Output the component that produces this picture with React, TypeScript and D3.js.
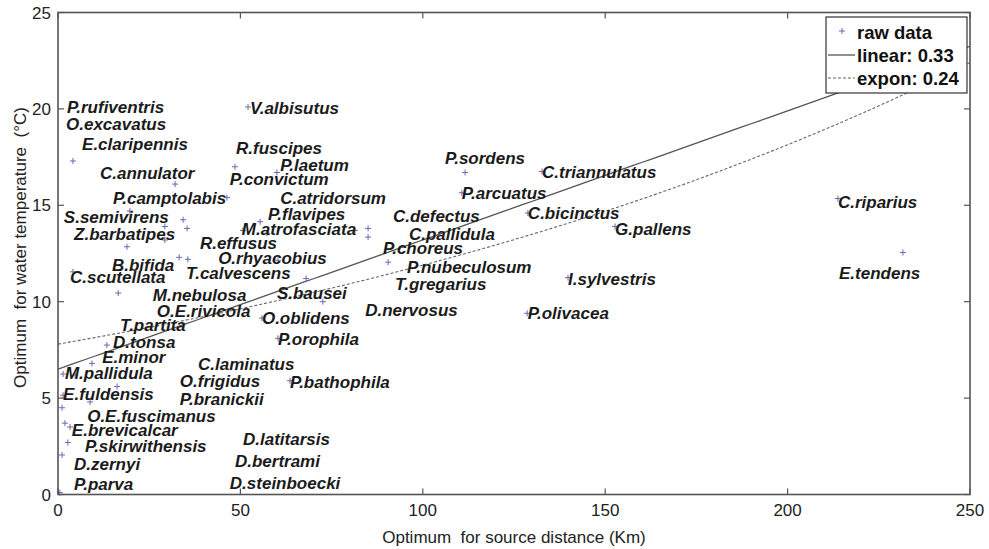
import React from 'react';
import * as d3 from 'd3';

// raw data points: [source distance (Km), water temperature (°C)]
const rawPoints: [number, number][] = [
  [4.1, 17.3], [48.5, 17.0], [32.1, 16.1], [46.3, 15.4], [19.7, 14.7],
  [34.3, 14.25], [35.4, 13.8], [29.3, 13.9], [29.3, 13.2], [18.9, 12.85],
  [33.2, 12.3], [35.6, 12.2], [4.1, 11.55], [16.5, 10.45], [13.4, 7.75],
  [9.3, 6.8], [1.4, 6.25], [4.7, 6.2], [16.2, 5.6], [1.4, 5.15],
  [8.8, 4.8], [1.1, 4.5], [1.9, 3.7], [3.3, 3.5], [2.7, 2.7],
  [1.1, 2.05], [0.5, 0.1], [60.0, 16.7], [55.4, 14.15], [57.3, 13.55],
  [50.7, 13.7], [81.4, 13.7], [85.0, 13.8], [85.0, 13.35], [90.5, 12.05],
  [60.3, 12.15], [68.0, 11.2], [72.6, 10.0], [55.9, 9.15], [60.3, 8.1],
  [63.6, 5.9], [52.1, 20.1], [111.6, 16.7], [110.7, 15.65], [132.7, 16.75],
  [128.8, 14.6], [152.7, 13.9], [139.8, 11.25], [128.6, 9.4], [213.8, 15.35],
  [231.6, 12.55],
];

// species labels, anchored (left, middle) in data units
const speciesLabels: [string, number, number][] = [
  ['P.rufiventris', 2.5, 20.1], ['O.excavatus', 2.2, 19.2], ['E.claripennis', 6.6, 18.2],
  ['C.annulator', 11.5, 16.7], ['P.camptolabis', 15.1, 15.4], ['S.semivirens', 1.6, 14.4],
  ['Z.barbatipes', 4.4, 13.5], ['B.bifida', 14.8, 11.9], ['C.scutellata', 3.3, 11.3],
  ['M.nebulosa', 26.0, 10.35], ['O.E.rivicola', 27.1, 9.5], ['T.partita', 17.0, 8.8],
  ['D.tonsa', 15.1, 7.9], ['E.minor', 12.1, 7.15], ['M.pallidula', 1.9, 6.3],
  ['E.fuldensis', 1.4, 5.2], ['O.E.fuscimanus', 8.0, 4.1], ['E.brevicalcar', 3.8, 3.35],
  ['P.skirwithensis', 7.4, 2.5], ['D.zernyi', 4.4, 1.6], ['P.parva', 4.4, 0.55],
  ['V.albisutus', 52.6, 20.05], ['R.fuscipes', 48.8, 18.0], ['P.laetum', 60.9, 17.1],
  ['P.convictum', 47.1, 16.35], ['C.atridorsum', 60.9, 15.4], ['P.flavipes', 57.6, 14.55],
  ['M.atrofasciata', 50.4, 13.8], ['R.effusus', 38.9, 13.05], ['O.rhyacobius', 43.9, 12.25],
  ['T.calvescens', 35.1, 11.5], ['S.bausei', 60.0, 10.45], ['O.oblidens', 55.9, 9.15],
  ['P.orophila', 60.3, 8.05], ['C.laminatus', 38.4, 6.8], ['O.frigidus', 33.4, 5.9],
  ['P.bathophila', 63.6, 5.85], ['P.branickii', 33.4, 4.95], ['D.latitarsis', 50.7, 2.9],
  ['D.bertrami', 48.5, 1.75], ['D.steinboecki', 47.1, 0.6], ['D.nervosus', 84.2, 9.6],
  ['C.defectus', 91.8, 14.45], ['C.pallidula', 96.2, 13.5], ['P.choreus', 89.1, 12.8],
  ['P.nubeculosum', 95.7, 11.8], ['T.gregarius', 92.4, 10.9], ['P.sordens', 106.1, 17.45],
  ['C.triannulatus', 132.7, 16.75], ['P.arcuatus', 110.7, 15.65], ['C.bicinctus', 128.8, 14.6],
  ['G.pallens', 152.7, 13.8], ['I.sylvestris', 139.8, 11.2], ['P.olivacea', 128.8, 9.4],
  ['C.riparius', 213.8, 15.2], ['E.tendens', 214.1, 11.5],
];

const xTicks = [0, 50, 100, 150, 200, 250];
const yTicks = [0, 5, 10, 15, 20, 25];

// fitted models
const linearFit = { intercept: 6.5, slope: 0.067, r2: '0.33' };
const exponFit = { a: 7.8, b: 0.00422, r2: '0.24' };

const W = 989;
const H = 549;
const margin = { left: 58, right: 19, top: 12.5, bottom: 54.5 };

const App = () => {
  const x = d3.scaleLinear().domain([0, 250]).range([margin.left, W - margin.right]);
  const y = d3.scaleLinear().domain([0, 25]).range([H - margin.bottom, margin.top]);

  const fitX = d3.range(0, 250.1, 2.5);
  const linearPath = d3.line<number>().x(d => x(d)).y(d => y(linearFit.intercept + linearFit.slope * d))(fitX);
  const exponPath = d3.line<number>().x(d => x(d)).y(d => y(exponFit.a * Math.exp(exponFit.b * d)))(fitX);

  const plus = 'M-3,0H3M0,-3V3';
  const x0 = x(0), x1 = x(250), y0 = y(0), y1 = y(25);
  const tickLen = 6;
  const lx = 826, ly = 17, lw = 141, lh = 76;

  return (
    <svg width={W} height={H} style={{ position: 'absolute', left: 0, top: 0, background: '#fff' }}
      fontFamily="'Liberation Sans', Arial, sans-serif">
      <defs>
        <clipPath id="plot">
          <rect x={x0} y={y1} width={x1 - x0} height={y0 - y1} />
        </clipPath>
      </defs>

      <g clipPath="url(#plot)" fill="none">
        <path d={linearPath || ''} stroke="#555" strokeWidth={1.3} />
        <path d={exponPath || ''} stroke="#666" strokeWidth={1.1} strokeDasharray="3,2" />
      </g>

      {rawPoints.map(([px, py], i) => (
        <path key={i} d={plus} transform={`translate(${x(px)},${y(py)})`} stroke="#6a6ab4" strokeWidth={1} />
      ))}

      {speciesLabels.map(([name, px, py]) => (
        <text key={name} x={x(px)} y={y(py)} dy="0.36em" fontSize={17} fontWeight="bold"
          fontStyle="italic" fill="#1b1b1b">{name}</text>
      ))}

      {/* frame and inward ticks */}
      <rect x={x0} y={y1} width={x1 - x0} height={y0 - y1} fill="none" stroke="#555" strokeWidth={1.6} />
      {xTicks.map(t => (
        <g key={'x' + t} stroke="#555" strokeWidth={1.2}>
          <line x1={x(t)} x2={x(t)} y1={y0} y2={y0 - tickLen} />
          <line x1={x(t)} x2={x(t)} y1={y1} y2={y1 + tickLen} />
        </g>
      ))}
      {yTicks.map(t => (
        <g key={'y' + t} stroke="#555" strokeWidth={1.2}>
          <line x1={x0} x2={x0 + tickLen} y1={y(t)} y2={y(t)} />
          <line x1={x1} x2={x1 - tickLen} y1={y(t)} y2={y(t)} />
        </g>
      ))}
      {xTicks.map(t => (
        <text key={'xl' + t} x={x(t)} y={y0 + 15} dy="0.36em" textAnchor="middle" fontSize={17} fill="#222">{t}</text>
      ))}
      {yTicks.map(t => (
        <text key={'yl' + t} x={x0 - 7} y={y(t)} dy="0.36em" textAnchor="end" fontSize={17} fill="#222">{t}</text>
      ))}

      <text x={(x0 + x1) / 2} y={537} dy="0.36em" textAnchor="middle" fontSize={17} fill="#222"
        style={{ whiteSpace: 'pre' }}>
        {'Optimum  for source distance (Km)'}
      </text>
      <text transform={`translate(20,${(y0 + y1) / 2 - 6}) rotate(-90)`} dy="0.36em" textAnchor="middle"
        fontSize={17} fill="#222" style={{ whiteSpace: 'pre' }}>
        {'Optimum  for water temperature  (°C)'}
      </text>

      {/* legend */}
      <g>
        <rect x={lx} y={ly} width={lw} height={lh} fill="#fff" stroke="#333" strokeWidth={1.2} />
        <path d={plus} transform={`translate(${lx + 16},${ly + 14})`} stroke="#6a6ab4" strokeWidth={1} />
        <line x1={lx + 2} x2={lx + 29} y1={ly + 38} y2={ly + 38} stroke="#555" strokeWidth={1.3} />
        <line x1={lx + 2} x2={lx + 29} y1={ly + 61} y2={ly + 61} stroke="#666" strokeWidth={1.1} strokeDasharray="3,2" />
        <text x={lx + 31} y={ly + 15} dy="0.36em" fontSize={18.5} fontWeight="bold" fill="#111">raw data</text>
        <text x={lx + 31} y={ly + 38} dy="0.36em" fontSize={18.5} fontWeight="bold" fill="#111">linear: {linearFit.r2}</text>
        <text x={lx + 31} y={ly + 61} dy="0.36em" fontSize={18.5} fontWeight="bold" fill="#111">expon: {exponFit.r2}</text>
      </g>
    </svg>
  );
};

export default App;
